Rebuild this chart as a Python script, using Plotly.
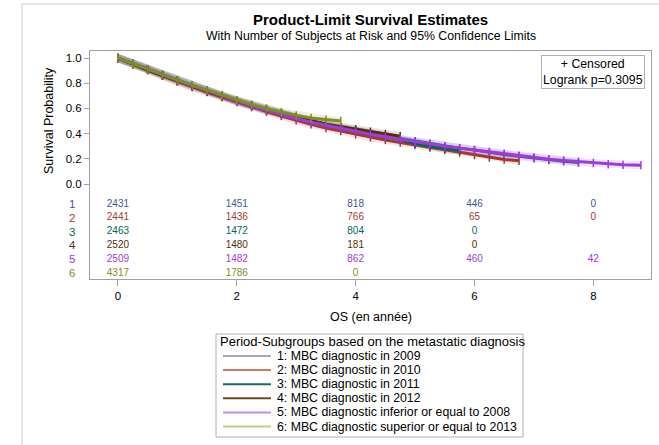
import plotly.graph_objects as go

# ---------------- data ----------------
group_names = [
    "1: MBC diagnostic in 2009",
    "2: MBC diagnostic in 2010",
    "3: MBC diagnostic in 2011",
    "4: MBC diagnostic in 2012",
    "5: MBC diagnostic inferior or equal to 2008",
    "6: MBC diagnostic superior or equal to 2013",
]
group_ids = ["1", "2", "3", "4", "5", "6"]

t_grid = [0, 0.25, 0.5, 0.75, 1, 1.25, 1.5, 1.75, 2, 2.25, 2.5, 2.75, 3, 3.25, 3.5,
          3.75, 4, 4.25, 4.5, 4.75, 5, 5.25, 5.5, 5.75, 6, 6.25, 6.5, 6.75, 7, 7.25,
          7.5, 7.75, 8, 8.25, 8.5, 8.8]

surv_1 = [1.0, .955, .91, .865, .82, .78, .74, .70, .66, .625, .59, .56, .53, .50, .47,
          .445, .42, .40, .38, .36, .34, .32, .30, .285, .27, .25, .235, .22, .205, .19,
          .18, .17]
surv_2 = [1.0, .95, .905, .86, .815, .77, .73, .69, .65, .61, .575, .54, .505, .475, .445,
          .42, .395, .37, .35, .33, .31, .29, .27, .25, .23, .21, .195, .185]
surv_3 = [1.0, .955, .91, .865, .82, .78, .74, .70, .66, .625, .59, .56, .53, .50, .47,
          .445, .42, .395, .375, .355, .32, .30, .28, .265]
surv_4 = [1.0, .95, .905, .86, .815, .775, .735, .695, .655, .62, .585, .555, .525, .50,
          .475, .455, .435, .415, .395, .38]
surv_5 = [1.0, .955, .91, .865, .82, .78, .74, .70, .655, .62, .585, .55, .52, .49, .465,
          .44, .415, .395, .375, .355, .335, .315, .30, .285, .27, .255, .24, .225, .21,
          .197, .187, .177, .167, .157, .152, .15]
surv_6 = [1.0, .955, .91, .87, .825, .785, .745, .705, .665, .63, .60, .57, .545, .525,
          .51, .50]
survs = [surv_1, surv_2, surv_3, surv_4, surv_5, surv_6]

risk_times = [0, 2, 4, 6, 8]
risk_1 = [2431, 1451, 818, 446, 0]
risk_2 = [2441, 1436, 766, 65, 0]
risk_3 = [2463, 1472, 804, 0, None]
risk_4 = [2520, 1480, 181, 0, None]
risk_5 = [2509, 1482, 862, 460, 42]
risk_6 = [4317, 1786, 0, None, None]
risks = [risk_1, risk_2, risk_3, risk_4, risk_5, risk_6]

# ---------------- style ----------------
colors = ["#445694", "#A23A2E", "#01665E", "#543005", "#9D3CDB", "#7F8E1F"]
legend_colors = ["#9FA8CA", "#D0786C", "#1C6B62", "#6B4A22", "#C58AF0", "#C4C994"]
FONT = "Liberation Sans, Arial, sans-serif"

# layout geometry (pixels)
W, H = 659, 445
L, R, T, B = 90, 8, 51, 166
plot_w = W - L - R
plot_h = H - T - B
y_lo, y_hi = -0.754, 1.056
x_lo, x_hi = -0.47, 8.97


def py2p(py):
    return (H - B - py) / plot_h


def px2p(px):
    return (px - L) / plot_w


fig = go.Figure()

# confidence-band look (wide translucent line)
for i in range(6):
    s = survs[i]
    t = t_grid[:len(s)]
    fig.add_trace(go.Scatter(x=t, y=s, mode="lines",
                             line=dict(color=colors[i], width=8),
                             opacity=0.13, showlegend=False, hoverinfo="skip"))
# survival curves with censor ticks
for i in range(6):
    s = survs[i]
    t = t_grid[:len(s)]
    fig.add_trace(go.Scatter(x=t, y=s, mode="lines+markers",
                             line=dict(color=colors[i], width=3),
                             marker=dict(symbol="line-ns", size=6,
                                         line=dict(color=colors[i], width=1.5)),
                             showlegend=False, hoverinfo="skip"))

# risk table
row_y0, row_dy = -0.159, 0.1095
for i in range(6):
    xs = [tt for tt, v in zip(risk_times, risks[i]) if v is not None]
    txt = [str(v) for v in risks[i] if v is not None]
    yy = row_y0 - i * row_dy
    fig.add_trace(go.Scatter(x=xs, y=[yy] * len(xs), mode="text", text=txt,
                             textfont=dict(color=colors[i], size=10, family=FONT),
                             showlegend=False, hoverinfo="skip"))
    fig.add_annotation(x=px2p(67), xref="paper", y=yy, yref="y",
                       text=group_ids[i], showarrow=False,
                       font=dict(color=colors[i], size=11.5, family=FONT))

ax_line = "#A0A0A0"
fig.update_xaxes(range=[x_lo, x_hi], tickvals=[0, 2, 4, 6, 8], ticks="outside",
                 ticklen=6, tickcolor=ax_line, showline=True, linecolor=ax_line,
                 mirror=True, showgrid=False, zeroline=False,
                 tickfont=dict(size=11.5, family=FONT, color="#000"))
fig.update_yaxes(range=[y_lo, y_hi], tickvals=[0, 0.2, 0.4, 0.6, 0.8, 1.0],
                 ticktext=["0.0", "0.2", "0.4", "0.6", "0.8", "1.0"],
                 ticks="outside", ticklen=5, tickcolor=ax_line, showline=True,
                 linecolor=ax_line, mirror=True, showgrid=False, zeroline=False,
                 tickfont=dict(size=11.5, family=FONT, color="#000"))

annots = [
    dict(x=0.5, y=py2p(20), text="<b>Product-Limit Survival Estimates</b>",
         font=dict(size=15, family=FONT, color="#000")),
    dict(x=0.5, y=py2p(36),
         text="With Number of Subjects at Risk and 95% Confidence Limits",
         font=dict(size=12.3, family=FONT, color="#000")),
    dict(x=0.5, y=py2p(317), text="OS (en année)",
         font=dict(size=12.5, family=FONT, color="#000")),
]
for a in annots:
    fig.add_annotation(xref="paper", yref="paper", showarrow=False,
                       xanchor="center", yanchor="middle", **a)

fig.add_annotation(x=px2p(40), xref="paper", y=0.5, yref="y",
                   text="Survival Probability", textangle=-90, showarrow=False,
                   font=dict(size=12.5, family=FONT, color="#000"))

fig.add_annotation(x=px2p(645), y=py2p(55), xref="paper", yref="paper",
                   xanchor="right", yanchor="top", showarrow=False,
                   text="+ Censored<br>Logrank p=0.3095", align="center",
                   bordercolor="#B0B0B0", borderwidth=1, borderpad=1, bgcolor="#fff",
                   font=dict(size=12.3, family=FONT, color="#000"))

# outer frame
fig.add_shape(type="rect", xref="paper", yref="paper",
              x0=px2p(22), x1=px2p(700), y0=py2p(500), y1=py2p(4),
              line=dict(color="#D0D0D0", width=1), layer="below")

# legend box (drawn manually for compact SAS-like spacing)
fig.add_shape(type="rect", xref="paper", yref="paper",
              x0=px2p(216), x1=px2p(523), y0=py2p(437), y1=py2p(334),
              line=dict(color="#B0B0B0", width=1))
fig.add_annotation(x=px2p(217.5), y=py2p(341.5), xref="paper", yref="paper",
                   xanchor="left", yanchor="middle", showarrow=False,
                   text="Period-Subgroups based on the metastatic diagnosis",
                   font=dict(size=13, family=FONT, color="#000"))
for i in range(6):
    yrow = 356 + i * 14.1
    fig.add_shape(type="line", xref="paper", yref="paper",
                  x0=px2p(223), x1=px2p(271), y0=py2p(yrow), y1=py2p(yrow),
                  line=dict(color=legend_colors[i], width=2))
    fig.add_annotation(x=px2p(275), y=py2p(yrow), xref="paper", yref="paper",
                       xanchor="left", yanchor="middle", showarrow=False,
                       text=group_names[i],
                       font=dict(size=12.3, family=FONT, color="#000"))

fig.update_layout(
    width=W, height=H,
    margin=dict(l=L, r=R, t=T, b=B),
    paper_bgcolor="#fff", plot_bgcolor="#fff",
    showlegend=False,
)

fig.write_html("out.html")
